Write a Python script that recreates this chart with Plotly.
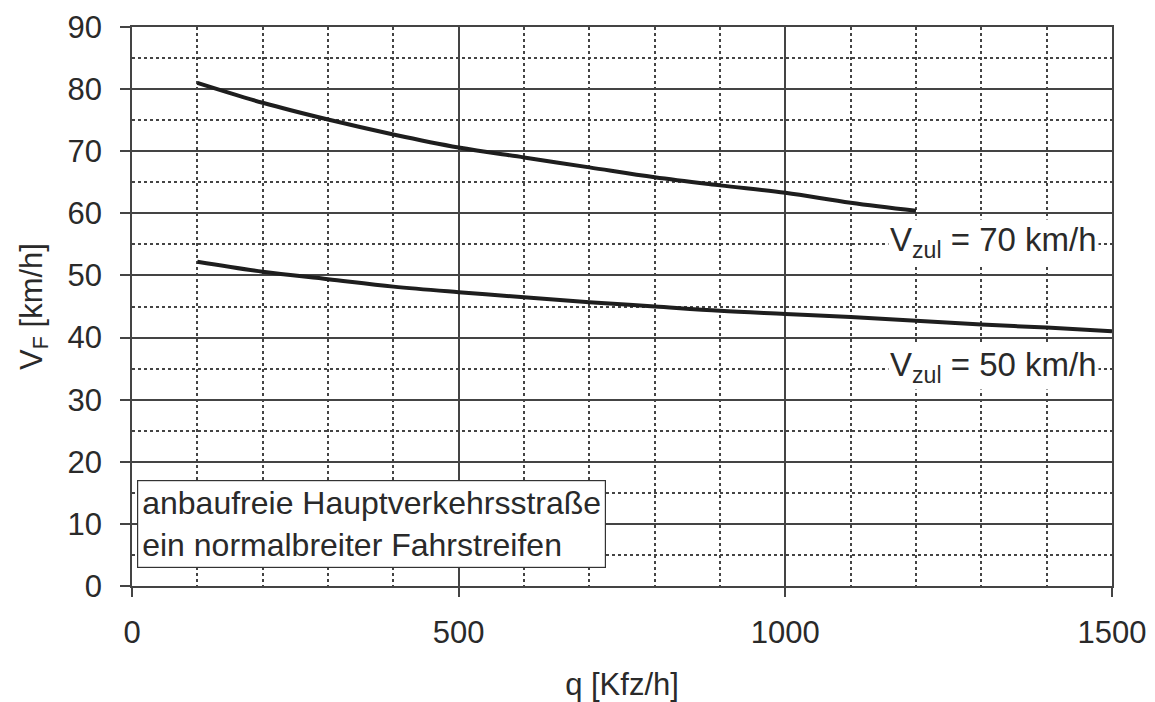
import plotly.graph_objects as go

# Data
q70 = [100, 200, 300, 400, 500, 600, 700, 800, 900, 1000, 1100, 1200]
v70 = [81.0, 77.8, 75.1, 72.7, 70.6, 69.0, 67.4, 65.8, 64.5, 63.3, 61.7, 60.4]
q50 = [100, 200, 300, 400, 500, 600, 700, 800, 900, 1000, 1100, 1200, 1300, 1400, 1500]
v50 = [52.2, 50.6, 49.4, 48.2, 47.3, 46.5, 45.7, 45.0, 44.3, 43.8, 43.3, 42.7, 42.1, 41.6, 41.0]

label70 = "V<sub>zul</sub> = 70 km/h"
label50 = "V<sub>zul</sub> = 50 km/h"
box_text = "anbaufreie Hauptverkehrsstraße<br>ein normalbreiter Fahrstreifen"

FONT = "Liberation Sans, Arial, Helvetica, sans-serif"
TXT = "#2a2a2a"
GRID = "#444444"
FS = 31

fig = go.Figure()
for q, v in [(q70, v70), (q50, v50)]:
    fig.add_trace(go.Scatter(x=q, y=v, mode="lines",
                             line=dict(color="#1e1e1e", width=4, shape="spline"),
                             showlegend=False, hoverinfo="skip"))

fig.update_layout(
    width=1147, height=694,
    margin=dict(l=124, r=43, t=19, b=116, autoexpand=False),
    paper_bgcolor="white", plot_bgcolor="white",
    font=dict(family=FONT, size=FS, color=TXT),
)

fig.update_xaxes(
    range=[0, 1500], tickvals=[0, 500, 1000, 1500],
    showgrid=True, gridcolor=GRID, gridwidth=1.5,
    minor=dict(dtick=100, tick0=0, showgrid=True, gridcolor=GRID, gridwidth=1.5, griddash="dot"),
    showline=True, linecolor=GRID, linewidth=1.5, mirror=True,
    ticks="outside", ticklen=9, tickcolor=GRID, tickwidth=1.5,
    ticklabelstandoff=9, automargin=False,
    zeroline=False,
    tickfont=dict(size=FS, color=TXT),
    title=dict(text="q [Kfz/h]", font=dict(size=FS, color=TXT), standoff=26),
)
fig.update_yaxes(
    range=[0, 90], dtick=10, tick0=0,
    showgrid=True, gridcolor=GRID, gridwidth=1.5,
    minor=dict(dtick=5, tick0=0, showgrid=True, gridcolor=GRID, gridwidth=1.5, griddash="dot"),
    showline=True, linecolor=GRID, linewidth=1.5, mirror=True,
    ticks="outside", ticklen=10, tickcolor=GRID, tickwidth=1.5,
    ticklabelstandoff=12, automargin=False,
    zeroline=False,
    tickfont=dict(size=FS, color=TXT),
    title=dict(text="V<sub>F</sub> [km/h]", font=dict(size=FS, color=TXT), standoff=16),
)

fig.add_annotation(x=1500, y=55, xref="x", yref="y", text=label70, showarrow=False,
                   xanchor="right", yanchor="middle", xshift=-13, yshift=2, bgcolor="white",
                   borderpad=1, font=dict(size=33, color=TXT))
fig.add_annotation(x=1500, y=35, xref="x", yref="y", text=label50, showarrow=False,
                   xanchor="right", yanchor="middle", xshift=-13, yshift=2, bgcolor="white",
                   borderpad=1, font=dict(size=33, color=TXT))
fig.add_annotation(x=0, y=0, xref="x", yref="y", text=box_text, showarrow=False,
                   xanchor="left", yanchor="bottom", xshift=5, yshift=18, align="left",
                   bgcolor="white", bordercolor="#333", borderwidth=1.2, borderpad=4,
                   font=dict(size=32, color=TXT))

fig.write_html("out.html")
